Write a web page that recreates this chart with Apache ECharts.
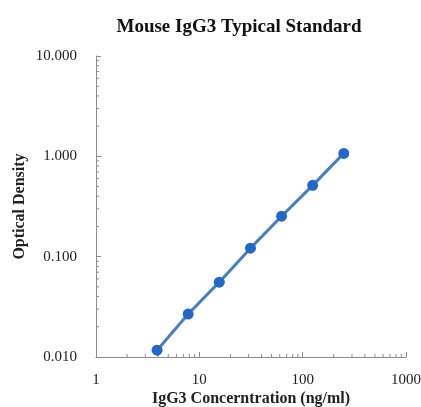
<!DOCTYPE html>
<html><head><meta charset="utf-8">
<script src="https://cdn.jsdelivr.net/npm/echarts@6/dist/echarts.min.js"></script>
<style>html,body{margin:0;padding:0;background:#fff}#c{width:421px;height:407px}</style>
</head><body><div id="c"></div>
<script>
var concentrations = [3.9, 7.8, 15.6, 31.25, 62.5, 125, 250];
var opticalDensity = [0.0117, 0.0268, 0.0557, 0.1216, 0.253, 0.514, 1.07];
var xMinorTicks = [2,3,4,5,6,7,8,9,20,30,40,50,60,70,80,90,200,300,400,500,600,700,800,900];
var yMinorTicks = [0.02,0.03,0.04,0.05,0.06,0.07,0.08,0.09,0.2,0.3,0.4,0.5,0.6,0.7,0.8,0.9,2,3,4,5,6,7,8,9];

var chart = echarts.init(document.getElementById('c'));
var serif = '"Liberation Serif", "DejaVu Serif", serif';
var axisColor = '#8c8c8c';

var tickData = xMinorTicks.map(function(v){return [v, 'x'];}).concat(yMinorTicks.map(function(v){return [v, 'y'];}));

chart.setOption({
  animation: false,
  title: {
    text: 'Mouse IgG3 Typical Standard',
    left: 234, top: 13, textAlign: 'center',
    textStyle: {fontFamily: serif, fontSize: 19, fontWeight: 'bold', color: '#111'}
  },
  grid: {left: 96, right: 15, top: 56, bottom: 50, containLabel: false, outerBoundsMode: 'none'},
  xAxis: {
    type: 'log', logBase: 10, min: 1, max: 1000,
    name: 'IgG3 Concerntration (ng/ml)', nameLocation: 'middle', nameGap: 34, nameMoveOverlap: false,
    nameTextStyle: {fontFamily: serif, fontSize: 16, fontWeight: 'bold', color: '#222'},
    axisLine: {lineStyle: {color: axisColor, width: 1}},
    axisTick: {show: true, inside: true, length: 5, lineStyle: {color: axisColor}},
    axisLabel: {fontFamily: serif, fontSize: 15, color: '#222', margin: 16,
      formatter: function(v){ return String(Math.round(v)); }},
    splitLine: {show: false}
  },
  yAxis: {
    type: 'log', logBase: 10, min: 0.01, max: 10,
    name: 'Optical Density', nameLocation: 'middle', nameGap: 68, nameMoveOverlap: false,
    nameTextStyle: {fontFamily: serif, fontSize: 16, fontWeight: 'bold', color: '#222'},
    axisLine: {show: true, lineStyle: {color: axisColor, width: 1}},
    axisTick: {show: true, inside: true, length: 5, lineStyle: {color: axisColor}},
    axisLabel: {fontFamily: serif, fontSize: 15, color: '#222', margin: 19,
      formatter: function(v){ return Number(v).toFixed(3); }},
    splitLine: {show: false}
  },
  series: [
    {
      type: 'custom',
      silent: true,
      data: tickData,
      renderItem: function(params, api) {
        var v = api.value(0);
        var axis = tickData[params.dataIndex][1];
        if (axis === 'x') {
          var p = api.coord([v, 0.01]);
          return {type: 'line', shape: {x1: p[0], y1: p[1], x2: p[0], y2: p[1] - 3},
            style: {stroke: axisColor, lineWidth: 1}};
        } else {
          var q = api.coord([1, v]);
          return {type: 'line', shape: {x1: q[0], y1: q[1], x2: q[0] + 3, y2: q[1]},
            style: {stroke: axisColor, lineWidth: 1}};
        }
      },
      encode: {x: 0, y: 0},
      z: 1
    },
    {
      type: 'line',
      data: concentrations.map(function(c, i){ return [c, opticalDensity[i]]; }),
      symbol: 'circle', symbolSize: 11,
      lineStyle: {color: '#4a7ebb', width: 3},
      itemStyle: {color: '#2468c0'},
      z: 3
    }
  ]
});
</script></body></html>
